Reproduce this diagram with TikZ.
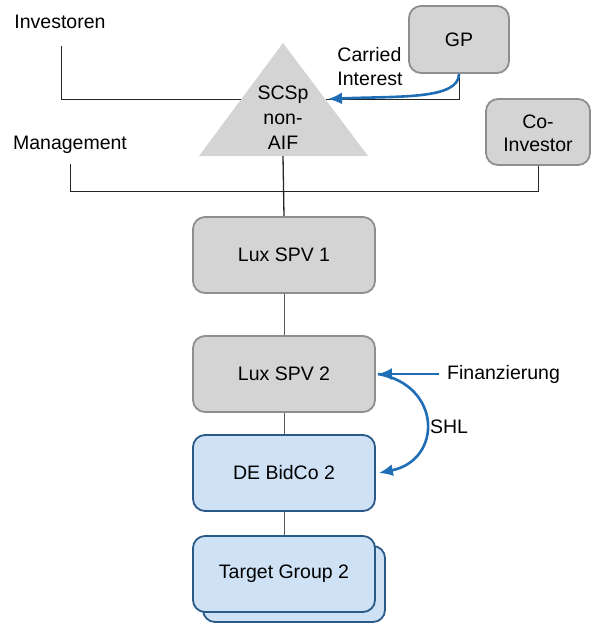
\documentclass[tikz,border=0pt]{standalone}
\usepackage{fontspec}
\setmainfont{Liberation Sans}
\usetikzlibrary{arrows.meta}
\definecolor{boxgray}{HTML}{D4D4D4}
\definecolor{edgegray}{HTML}{8E8E8E}
\definecolor{boxblue}{HTML}{CFE2F5}
\definecolor{edgeblue}{HTML}{2A5A88}
\definecolor{arrowblue}{HTML}{1F6DB5}
\definecolor{linegray}{HTML}{5A5A5A}
\begin{document}
\begin{tikzpicture}[x=1pt,y=-1pt,
  font=\fontsize{19.5}{24}\selectfont,
  entity/.style={rounded corners=12pt, line width=1.8pt, inner sep=0pt,
    minimum width=182pt, minimum height=76pt, align=center},
  graybox/.style={entity, draw=edgegray, fill=boxgray},
  bluebox/.style={entity, draw=edgeblue, fill=boxblue},
  label/.style={inner sep=0pt, align=left},
  conn/.style={draw=black!85, line width=1pt},
  link/.style={draw=linegray, line width=1pt},
  flow/.style={draw=arrowblue, line width=2.6pt,
    -{Latex[length=14pt,width=12pt]}}
]
\useasboundingbox (0,0) rectangle (592,625);

% fund vehicle (triangle) and its text
\fill[boxgray] (283,43) -- (368,156) -- (199,156) -- cycle;
\node[label, align=center, font=\fontsize{19.5}{25}\selectfont] (fund) at (283,118) {SCSp\\non-\\AIF};
\coordinate (fundL) at (241,99);
\coordinate (fundR) at (326,99);
\coordinate (fundB) at (283,156);

% outside parties
\node[label] (inv) at (60,22) {Investoren};
\coordinate (invfoot) at (61,46);
\node[label] (mgm) at (70,145) {Management};
\coordinate (mgmfoot) at (70,164);
\node[graybox, minimum width=100pt, minimum height=67pt] (gp) at (459,39.5) {GP};
\node[graybox, minimum width=104pt, minimum height=66pt, font=\fontsize{19.5}{23}\selectfont] (coinv) at (538,132) {\strut Co-\\Investor};
\node[label] (carry) at (370,67) {Carried\\Interest};

% holding chain
\node[graybox] (spv1) at (284,255) {Lux SPV 1};
\node[graybox] (spv2) at (284,374) {Lux SPV 2};
\node[bluebox] (bidco) at (284,473) {DE BidCo 2};
\node[bluebox] (tgback) at (294,584) {};
\node[bluebox] (tg) at (284,574) {Target Group 2};

\node[label, anchor=west] (fin) at (447,374) {Finanzierung};
\node[label] (shl) at (449,427) {SHL};

% ownership lines
\draw[conn] (invfoot) |- (fundL);
\draw[conn] (gp.south) |- (fundR);
\draw[conn] (mgmfoot) |- (coinv.south |- 0,191) -- (coinv.south);
\draw[conn, line width=1.3pt] (fundB) -- (spv1.north);
\draw[link] (spv1.south) -- (spv2.north);
\draw[link] (spv2.south) -- (bidco.north);
\draw[link] (bidco.south) -- (tg.north);

% flows
\draw[flow] (gp.south) .. controls +(0,26) and +(70,-3) .. ([xshift=2pt]fundR);
\draw[flow] ([xshift=-8pt]fin.west) -- ([xshift=2pt]spv2.east);
\draw[flow] ([xshift=2pt]spv2.east) .. controls +(64,11) and +(64,-13) .. ([xshift=3pt]bidco.east);
\end{tikzpicture}
\end{document}
